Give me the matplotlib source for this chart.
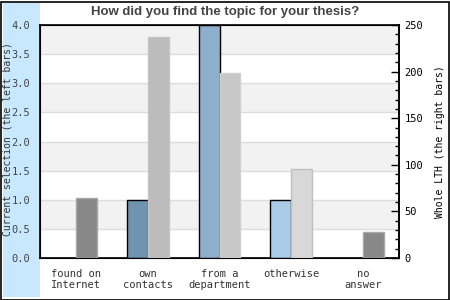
import matplotlib.pyplot as plt
import numpy as np
from matplotlib.patches import Rectangle
from matplotlib.ticker import MultipleLocator

categories = ['found on\nInternet', 'own\ncontacts', 'from a\ndepartment', 'otherwise', 'no\nanswer']
current = [0, 1, 4, 1, 0]
whole_lth = [64, 237, 198, 96, 28]

left_colors = ['#7094b0', '#7094b0', '#8eb0cc', '#aacce8', '#aacce8']
right_colors = ['#888888', '#bcbcbc', '#c8c8c8', '#d8d8d8', '#888888']
right_edges = ['#a8a8a8', '#c4c4c4', '#d0d0d0', '#c0c0c0', '#a8a8a8']

mono = 'DejaVu Sans Mono'


def main():
    fig = plt.figure(figsize=(4.5, 3), dpi=100)
    W, H = 450, 300

    # outer frame and blue strip
    fig.patches.append(Rectangle((0.5 / W, 0.5 / H), 448 / W, 298 / H, transform=fig.transFigure,
                                 facecolor='white', edgecolor='black', lw=1.2, zorder=0))
    fig.patches.append(Rectangle((3 / W, 3 / H), 37 / W, 294 / H, transform=fig.transFigure,
                                 facecolor='#c8e8ff', edgecolor='none', zorder=1))

    ax = fig.add_axes([40 / W, (H - 258) / H, 359 / W, 233 / H])
    ax.set_zorder(2)
    x = np.arange(len(categories))
    w = 0.29

    # alternating bands
    for k in range(8):
        lo = k * 0.5
        ax.axhspan(lo, lo + 0.5, color='#f2f2f2' if k % 2 else 'white', zorder=0, lw=0)
    for y in np.arange(0.5, 4.0, 0.5):
        ax.axhline(y, color='#dddddd', lw=1, zorder=0.5)

    ax.set_ylim(0, 4)
    ax.set_xlim(-0.5, 4.5)
    ax.set_yticks(np.arange(0, 4.01, 0.5))
    ax.set_yticklabels([f'{v:.1f}' for v in np.arange(0, 4.01, 0.5)],
                       family=mono, fontsize=7.5, color='#444444')
    ax.tick_params(axis='y', length=0, pad=7)
    ax.set_xticks(x)
    ax.set_xticklabels(categories, family=mono, fontsize=7.5, color='#333333', linespacing=1.15)
    ax.tick_params(axis='x', length=0, pad=8)
    for s in ax.spines.values():
        s.set_color('black')
        s.set_linewidth(1.2)

    ax2 = ax.twinx()
    ax2.set_ylim(0, 250)
    ax2.set_yticks(np.arange(0, 251, 50))
    ax2.set_yticklabels([str(v) for v in range(0, 251, 50)], family=mono, fontsize=7.5, color='black')
    ax2.yaxis.set_minor_locator(MultipleLocator(10))
    ax2.tick_params(axis='y', which='major', direction='in', length=6, width=1, pad=4)
    ax2.tick_params(axis='y', which='minor', direction='in', length=3, width=1)
    ax2.spines['right'].set_linewidth(1.2)

    for i in range(len(categories)):
        if current[i] > 0:
            ax.bar(x[i] - w / 2, current[i], w, color=left_colors[i], edgecolor='black', lw=1, zorder=3)
        ax2.bar(x[i] + w / 2, whole_lth[i], w, color=right_colors[i], edgecolor=right_edges[i], lw=1, zorder=3)

    ax.set_ylabel('Current selection (the left bars)', family=mono, fontsize=7, color='#333333')
    ax.yaxis.set_label_coords(-27 / 359, 0.51)
    ax2.set_ylabel('Whole LTH (the right bars)', family=mono, fontsize=7, color='black')
    ax2.yaxis.set_label_coords(1 + 36 / 359, 0.5)

    fig.text(225 / W, 1 - 12 / H, 'How did you find the topic for your thesis?', ha='center', va='center',
             family='Liberation Sans', fontweight='bold', fontsize=9.5, color='#444444')

    fig.savefig('out.png', dpi=100)


if __name__ == '__main__':
    main()
